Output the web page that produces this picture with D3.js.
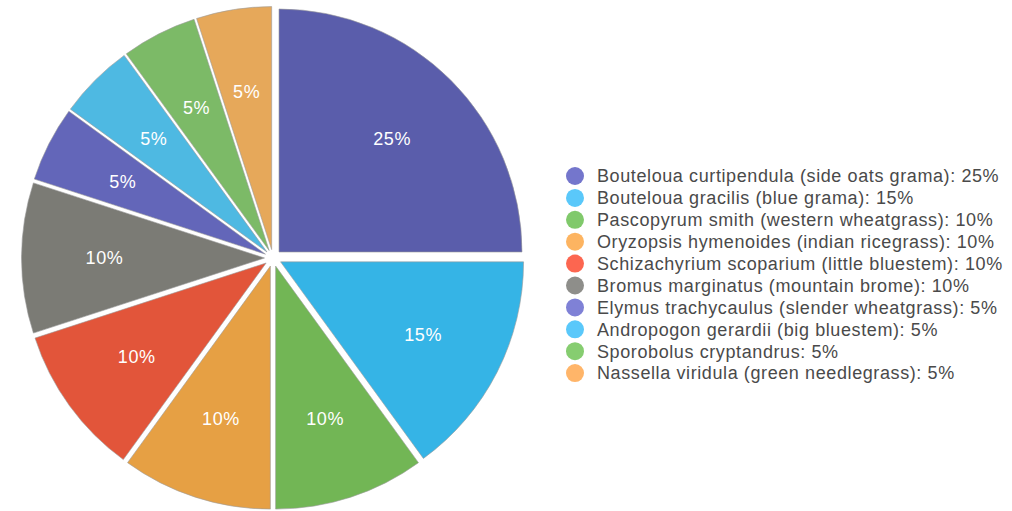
<!DOCTYPE html>
<html>
<head>
<meta charset="utf-8">
<script src="https://cdn.jsdelivr.net/npm/d3@7"></script>
<style>
body { margin: 0; background: #fff; }
svg { display: block; }
</style>
</head>
<body>
<div id="root"></div>
<script>
var names = [
    "Bouteloua curtipendula (side oats grama)",
    "Bouteloua gracilis (blue grama)",
    "Pascopyrum smith (western wheatgrass)",
    "Oryzopsis hymenoides (indian ricegrass)",
    "Schizachyrium scoparium (little bluestem)",
    "Bromus marginatus (mountain brome)",
    "Elymus trachycaulus (slender wheatgrass)",
    "Andropogon gerardii (big bluestem)",
    "Sporobolus cryptandrus",
    "Nassella viridula (green needlegrass)"
];
var values = [25, 15, 10, 10, 10, 10, 5, 5, 5, 5];
var sliceColors = ["#5a5dab", "#35b4e6", "#72b655", "#e6a044", "#e2553a",
                   "#7b7b75", "#6366b9", "#4eb9e2", "#7cba67", "#e6a85a"];
var legendColors = ["#7476cc", "#5ac8fa", "#80c96b", "#fdb461", "#fc6650",
                    "#8e8e8a", "#7f81d6", "#5ac8fa", "#86cd70", "#ffb569"];

var w = 1012, h = 511;
var cx = 273, cy = 258;
var radius = 243;
var explode = 8.5;

var svg = d3.select("#root").append("svg")
    .attr("width", w)
    .attr("height", h);

var data = names.map(function(n, i) { return {name: n, value: values[i], i: i}; });

var pie = d3.pie()
    .sort(null)
    .value(function(d) { return d.value; });

var arc = d3.arc().innerRadius(0).outerRadius(radius);
var labelArc = d3.arc().innerRadius(160).outerRadius(160);

var g = svg.append("g").attr("transform", "translate(" + cx + "," + cy + ")");

var slices = g.selectAll("g.slice")
    .data(pie(data))
    .enter()
    .append("g")
    .attr("class", "slice")
    .attr("transform", function(d) {
        var a = (d.startAngle + d.endAngle) / 2;
        return "translate(" + (Math.sin(a) * explode) + "," + (-Math.cos(a) * explode) + ")";
    });

slices.append("path")
    .attr("d", arc)
    .attr("fill", function(d) { return sliceColors[d.data.i]; })
    .attr("stroke", "#9a9a9a")
    .attr("stroke-width", 0.6);

slices.append("text")
    .attr("transform", function(d) { return "translate(" + labelArc.centroid(d) + ")"; })
    .attr("text-anchor", "middle")
    .attr("dy", "0.35em")
    .attr("font-family", "Helvetica Neue, Liberation Sans, Arial, sans-serif")
    .attr("font-size", "18px")
    .attr("letter-spacing", "0.6px")
    .attr("fill", "#fff")
    .text(function(d) { return d.data.value + "%"; });

//legend
var legend = svg.append("g");
var rowH = 21.9;
var items = legend.selectAll("g")
    .data(data)
    .enter()
    .append("g")
    .attr("transform", function(d, i) { return "translate(575," + (176 + i * rowH) + ")"; });

items.append("circle")
    .attr("r", 9)
    .attr("fill", function(d) { return legendColors[d.i]; });

items.append("text")
    .attr("x", 22)
    .attr("dy", "0.35em")
    .attr("font-family", "Helvetica Neue, Liberation Sans, Arial, sans-serif")
    .attr("font-size", "18px")
    .attr("letter-spacing", "0.6px")
    .attr("fill", "#4a4a4a")
    .text(function(d) { return d.name + ": " + d.value + "%"; });
</script>
</body>
</html>
